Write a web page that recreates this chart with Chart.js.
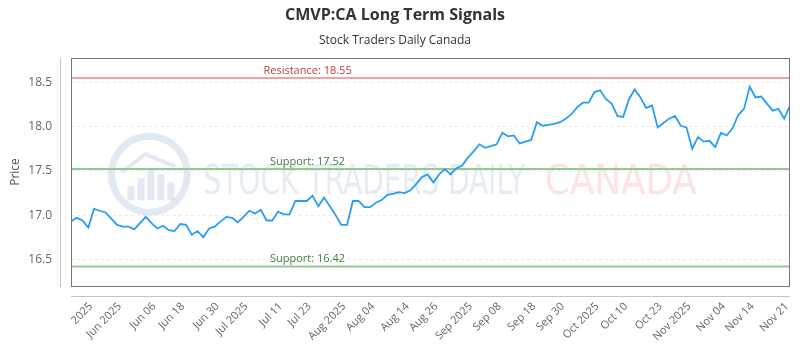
<!DOCTYPE html>
<html>
<head>
<meta charset="utf-8">
<script src="https://cdn.jsdelivr.net/npm/chart.js@4.4.0/dist/chart.umd.min.js"></script>
<style>
    html, body { margin: 0; padding: 0; background: #fff; }
</style>
</head>
<body>
<canvas id="canvas" width="800" height="350"></canvas>
<script>
// closing prices, one per trading day
const prices = [
    16.93, 16.97, 16.94, 16.86, 17.07, 17.05, 17.03, 16.96, 16.89, 16.87,
    16.87, 16.84, 16.91, 16.98, 16.91, 16.85, 16.88, 16.83, 16.82, 16.90,
    16.89, 16.78, 16.82, 16.75, 16.85, 16.87, 16.93, 16.98, 16.97, 16.92,
    16.98, 17.05, 17.02, 17.06, 16.94, 16.94, 17.04, 17.01, 17.01, 17.16,
    17.16, 17.16, 17.22, 17.10, 17.20, 17.10, 17.00, 16.89, 16.89, 17.16,
    17.16, 17.09, 17.09, 17.14, 17.17, 17.23, 17.24, 17.26, 17.25, 17.28,
    17.35, 17.43, 17.46, 17.37, 17.46, 17.52, 17.46, 17.53, 17.56, 17.65,
    17.72, 17.80, 17.76, 17.78, 17.80, 17.93, 17.89, 17.90, 17.81, 17.83,
    17.85, 18.05, 18.01, 18.02, 18.03, 18.05, 18.09, 18.14, 18.22, 18.27,
    18.27, 18.39, 18.41, 18.31, 18.26, 18.12, 18.11, 18.31, 18.42, 18.33,
    18.21, 18.24, 17.99, 18.04, 18.09, 18.12, 18.01, 17.99, 17.75, 17.88,
    17.83, 17.84, 17.77, 17.93, 17.90, 17.98, 18.13, 18.20, 18.45, 18.33,
    18.34, 18.26, 18.18, 18.20, 18.09, 18.24
];

// which day each date label sits on, and the label itself
const tickIdx = [4, 9, 15, 20, 26, 31, 37, 42, 48, 53, 59, 64, 70, 75, 81, 86, 92, 97, 103, 108, 114, 119, 125];
const tickLabels = [
    '2025', 'Jun 2025', 'Jun 06', 'Jun 18', 'Jun 30', 'Jul 2025', 'Jul 11', 'Jul 23',
    'Aug 2025', 'Aug 04', 'Aug 14', 'Aug 26', 'Sep 2025', 'Sep 08', 'Sep 18', 'Sep 30',
    'Oct 2025', 'Oct 10', 'Oct 23', 'Nov 2025', 'Nov 04', 'Nov 14', 'Nov 21'
];

const yTicks = [16.5, 17.0, 17.5, 18.0, 18.5];
const yMin = 16.2;
const yMax = 18.775;

// signal levels
const levelNames = ['Resistance', 'Support', 'Support'];
const levelValues = [18.55, 17.52, 16.42];
const levelLine = ['#f0a3a3', '#94c994', '#94c994'];
const levelText = ['#c23b3b', '#3d7f3d', '#3d7f3d'];

const points = prices.map((p, i) => ({ x: i, y: p }));

function drawWatermark(ctx, area) {
    ctx.save();
    // logo ring
    const cx = area.left + area.width * 0.109;
    const cy = area.top + area.height * 0.51;
    ctx.strokeStyle = 'rgba(200, 212, 232, 0.5)';
    ctx.lineWidth = 7;
    ctx.beginPath();
    ctx.arc(cx, cy, 38, 0, Math.PI * 2);
    ctx.stroke();
    ctx.fillStyle = 'rgba(200, 212, 232, 0.5)';
    const bars = [[-22, 14], [-12, 22], [-2, 30], [8, 26], [18, 18]];
    bars.forEach(b => ctx.fillRect(cx + b[0], cy + 26 - b[1], 7, b[1]));
    ctx.lineWidth = 4;
    ctx.beginPath();
    ctx.moveTo(cx - 28, cy - 2);
    ctx.lineTo(cx - 4, cy - 20);
    ctx.lineTo(cx + 26, cy - 8);
    ctx.stroke();

    // words
    ctx.textBaseline = 'alphabetic';
    ctx.textAlign = 'left';
    ctx.font = '41px "DejaVu Sans Condensed", "DejaVu Sans"';
    const base = area.top + area.height * 0.595;
    const drawFit = (txt, x, w, color) => {
        const m = ctx.measureText(txt).width;
        ctx.save();
        ctx.translate(x, base);
        ctx.scale(w / m, 1);
        ctx.fillStyle = color;
        ctx.fillText(txt, 0, 0);
        ctx.restore();
    };
    drawFit('STOCK TRADERS DAILY', area.left + area.width * 0.184, 322, 'rgba(210, 221, 236, 0.55)');
    drawFit('CANADA', area.left + area.width * 0.659, 152, 'rgba(252, 200, 200, 0.5)');
    ctx.restore();
}

const framePlugin = {
    id: 'frame',
    beforeDatasetsDraw(chart) {
        const ctx = chart.ctx;
        const area = chart.chartArea;
        const y = chart.scales.y;
        drawWatermark(ctx, area);

        ctx.save();
        for (let i = 0; i < levelValues.length; i++) {
            const py = y.getPixelForValue(levelValues[i]);
            ctx.strokeStyle = levelLine[i];
            ctx.lineWidth = 2;
            ctx.beginPath();
            ctx.moveTo(area.left, py);
            ctx.lineTo(area.right, py);
            ctx.stroke();

            ctx.fillStyle = levelText[i];
            ctx.font = '11px "Open Sans"';
            ctx.textAlign = 'center';
            ctx.textBaseline = 'bottom';
            ctx.fillText(`${levelNames[i]}: ${levelValues[i].toFixed(2)}`, area.left + area.width * 0.329, py - 2);
        }
        ctx.restore();
    },
    afterDraw(chart) {
        const ctx = chart.ctx;
        const area = chart.chartArea;
        ctx.save();
        ctx.lineWidth = 1;
        // box round the plot
        ctx.strokeStyle = '#777';
        ctx.strokeRect(Math.round(area.left) + 0.5, Math.round(area.top) + 0.5,
            Math.round(area.width) - 1, Math.round(area.height));
        // detached axis lines
        ctx.strokeStyle = '#c4c4c4';
        ctx.beginPath();
        ctx.moveTo(Math.round(area.left) - 10.5, area.top);
        ctx.lineTo(Math.round(area.left) - 10.5, area.bottom + 1);
        ctx.moveTo(area.left, Math.round(area.bottom) + 10.5);
        ctx.lineTo(area.right, Math.round(area.bottom) + 10.5);
        ctx.stroke();
        ctx.restore();
    }
};

const ctx = document.getElementById('canvas').getContext('2d');

window.chart = new Chart(ctx, {
    type: 'line',
    data: {
        datasets: [{
            label: 'CMVP:CA',
            data: points,
            borderColor: '#2b9ef3',
            borderWidth: 1.8,
            pointRadius: 0,
            tension: 0,
            fill: false
        }]
    },
    options: {
        responsive: false,
        animation: false,
        layout: {
            padding: { left: 0, right: 10, top: 0, bottom: 0 }
        },
        plugins: {
            legend: { display: false },
            tooltip: { enabled: false },
            title: {
                display: true,
                text: 'CMVP:CA Long Term Signals',
                color: '#333',
                font: { family: 'Open Sans', size: 16, weight: 'bold' },
                padding: { top: 6, bottom: 6 }
            },
            subtitle: {
                display: true,
                text: 'Stock Traders Daily Canada',
                color: '#333',
                font: { family: 'Open Sans', size: 12 },
                padding: { top: 2, bottom: 10.4 }
            }
        },
        scales: {
            x: {
                type: 'linear',
                min: 0,
                max: prices.length - 1,
                afterBuildTicks: (scale) => {
                    scale.ticks = tickIdx.map(v => ({ value: v }));
                },
                afterFit: (scale) => {
                    scale.height = 64;
                    scale.paddingLeft = 0;
                    scale.paddingRight = 0;
                },
                grid: { display: false, drawTicks: false },
                border: { display: false },
                ticks: {
                    autoSkip: false,
                    minRotation: 45,
                    maxRotation: 45,
                    padding: 14,
                    labelOffset: -3,
                    color: '#666',
                    font: { family: 'Open Sans', size: 11 },
                    callback: (v) => tickLabels[tickIdx.indexOf(v)]
                }
            },
            y: {
                min: yMin,
                max: yMax,
                afterBuildTicks: (scale) => {
                    scale.ticks = yTicks.map(v => ({ value: v }));
                },
                afterFit: (scale) => { scale.width = 71; },
                title: {
                    display: true,
                    text: 'Price',
                    color: '#555',
                    font: { family: 'Open Sans', size: 12 },
                    padding: { top: 8, bottom: 0 }
                },
                grid: {
                    drawTicks: false,
                    color: '#ebebeb',
                    lineWidth: 1
                },
                border: { display: false, dash: [3, 3] },
                ticks: {
                    padding: 19,
                    color: '#666',
                    font: { family: 'Open Sans', size: 12 },
                    callback: (v) => v.toFixed(1)
                }
            }
        }
    },
    plugins: [framePlugin]
});
</script>
</body>
</html>
